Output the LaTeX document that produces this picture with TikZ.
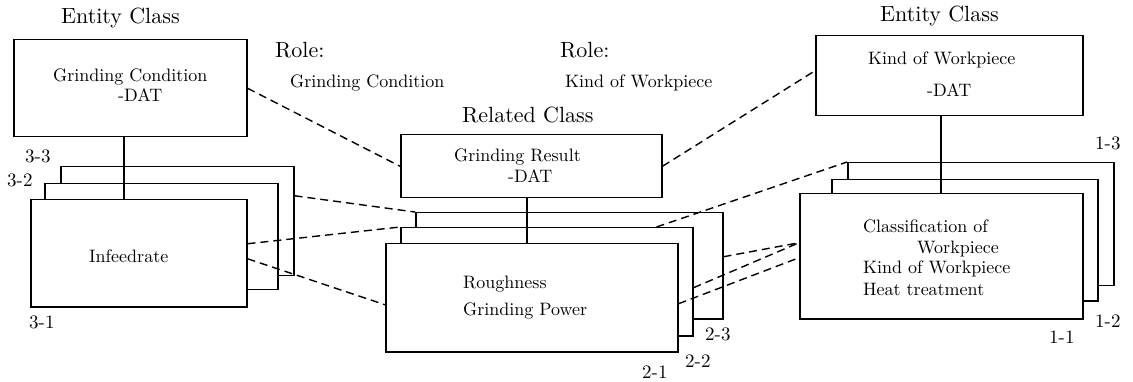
\documentclass[tikz,border=0pt]{standalone}
\usepackage{fontspec}
\setmainfont{lmroman10-regular.otf}
\usetikzlibrary{calc}
\newcommand\fbigh{\fontsize{22}{26}\selectfont}
\newcommand\fbx{\fontsize{18}{21}\selectfont}
\newcommand\flab{\fontsize{19}{22}\selectfont}
\tikzset{
  box/.style={draw, fill=white, line width=1.5pt, inner sep=0pt, anchor=north west},
  conn/.style={line width=1.5pt},
  rel/.style={line width=1.4pt, dash pattern=on 8pt off 5pt},
  txt/.style={inner sep=0pt, anchor=base west, font=\fbx},
  head/.style={inner sep=0pt, anchor=base west, font=\fbigh},
  lab/.style={inner sep=0pt, anchor=base west, font=\flab},
}
\begin{document}
\begin{tikzpicture}[x=1pt,y=-1pt]
\useasboundingbox (0,0) rectangle (1133,382);
% top boxes
\node[box, minimum width=233pt, minimum height=97pt] (gc) at (13,39) {};
\node[box, minimum width=267pt, minimum height=80pt] (kw) at (815,35) {};
\node[box, minimum width=261pt, minimum height=63pt] (gr) at (400,134) {};
% left stack
\node[box, minimum width=233pt, minimum height=109pt] (s33) at (60,166) {};
\node[box, minimum width=233pt, minimum height=106pt] (s32) at (44,183) {};
\node[box, minimum width=216pt, minimum height=107pt] (s31) at (30,199) {};
% middle stack
\node[box, minimum width=307pt, minimum height=106pt] (m23) at (415,212) {};
\node[box, minimum width=292pt, minimum height=108pt] (m22) at (400,227) {};
\node[box, minimum width=292pt, minimum height=108pt] (m21) at (385,243) {};
% right stack
\node[box, minimum width=266pt, minimum height=123pt] (r13) at (847,162) {};
\node[box, minimum width=266pt, minimum height=121pt] (r12) at (831,179) {};
\node[box, minimum width=283pt, minimum height=125pt] (r11) at (799,193) {};
% solid connectors
\draw[conn] ([xshift=-6.5pt]gc.south) -- ([xshift=-6.5pt]gc.south |- s31.north);
\draw[conn] ([xshift=-4.5pt]gr.south) -- ([xshift=-4.5pt]gr.south |- m21.north);
\draw[conn] ([xshift=-8.5pt]kw.south) -- ([xshift=-8.5pt]kw.south |- r11.north);
% dashed relations
\draw[rel] (gc.east) -- (gr.west);
\draw[rel] (gr.east) -- ([yshift=5pt]kw.west);
\draw[rel] ([yshift=25.5pt]s33.east) -- (m23.north west);
\draw[rel] ([yshift=9.5pt]s31.east) -- (m22.north west);
\draw[rel] ([yshift=-5.5pt]s31.east) -- ([yshift=-7pt]m21.west);
\draw[rel] ([xshift=-37pt]m22.north east) -- (r13.north west);
\draw[rel] ([yshift=9pt]m23.east) -- ([yshift=13.5pt]r11.west);
\draw[rel] ([yshift=-6pt]m22.east) -- ([yshift=13.5pt]r11.west);
\draw[rel] ([yshift=-6pt]m21.east) -- ([yshift=-1.5pt]r11.west);
% headings
\node[head] (h1) at (61,24) {Entity Class};
\node[head] (h2) at (880,22) {Entity Class};
\node[head] (h3) at (462,123) {Related Class};
\node[head] (h4) at (275,58) {Role:};
\node[txt] (h5) at (290,88) {Grinding Condition};
\node[head] (h6) at (560,58) {Role:};
\node[txt] (h7) at (565,88) {Kind of Workpiece};
% box texts
\node[txt] (a1) at (53,82) {Grinding Condition};
\node[txt] (a2) at (118,102) {-DAT};
\node[txt] (a3) at (89,263) {Infeedrate};
\node[txt] (b1) at (454,162) {Grinding Result};
\node[txt] (b2) at (508,183) {-DAT};
\node[txt] (b3) at (463,288) {Roughness};
\node[txt] (b4) at (463,315) {Grinding Power};
\node[txt] (c1) at (868,65) {Kind of Workpiece};
\node[txt] (c2) at (927,97) {-DAT};
\node[txt] (c3) at (863,233) {Classification of};
\node[txt] (c4) at (917,254) {Workpiece};
\node[txt] (c5) at (863,274) {Kind of Workpiece};
\node[txt] (c6) at (863,295) {Heat treatment};
% labels
\node[lab] (l33) at (25,163) {3-3};
\node[lab] (l32) at (7,187) {3-2};
\node[lab] (l31) at (29,328) {3-1};
\node[lab] (l23) at (705,340) {2-3};
\node[lab] (l22) at (685,367) {2-2};
\node[lab] (l21) at (642,378) {2-1};
\node[lab] (l13) at (1095,150) {1-3};
\node[lab] (l12) at (1095,327) {1-2};
\node[lab] (l11) at (1049,343) {1-1};
\end{tikzpicture}
\end{document}
